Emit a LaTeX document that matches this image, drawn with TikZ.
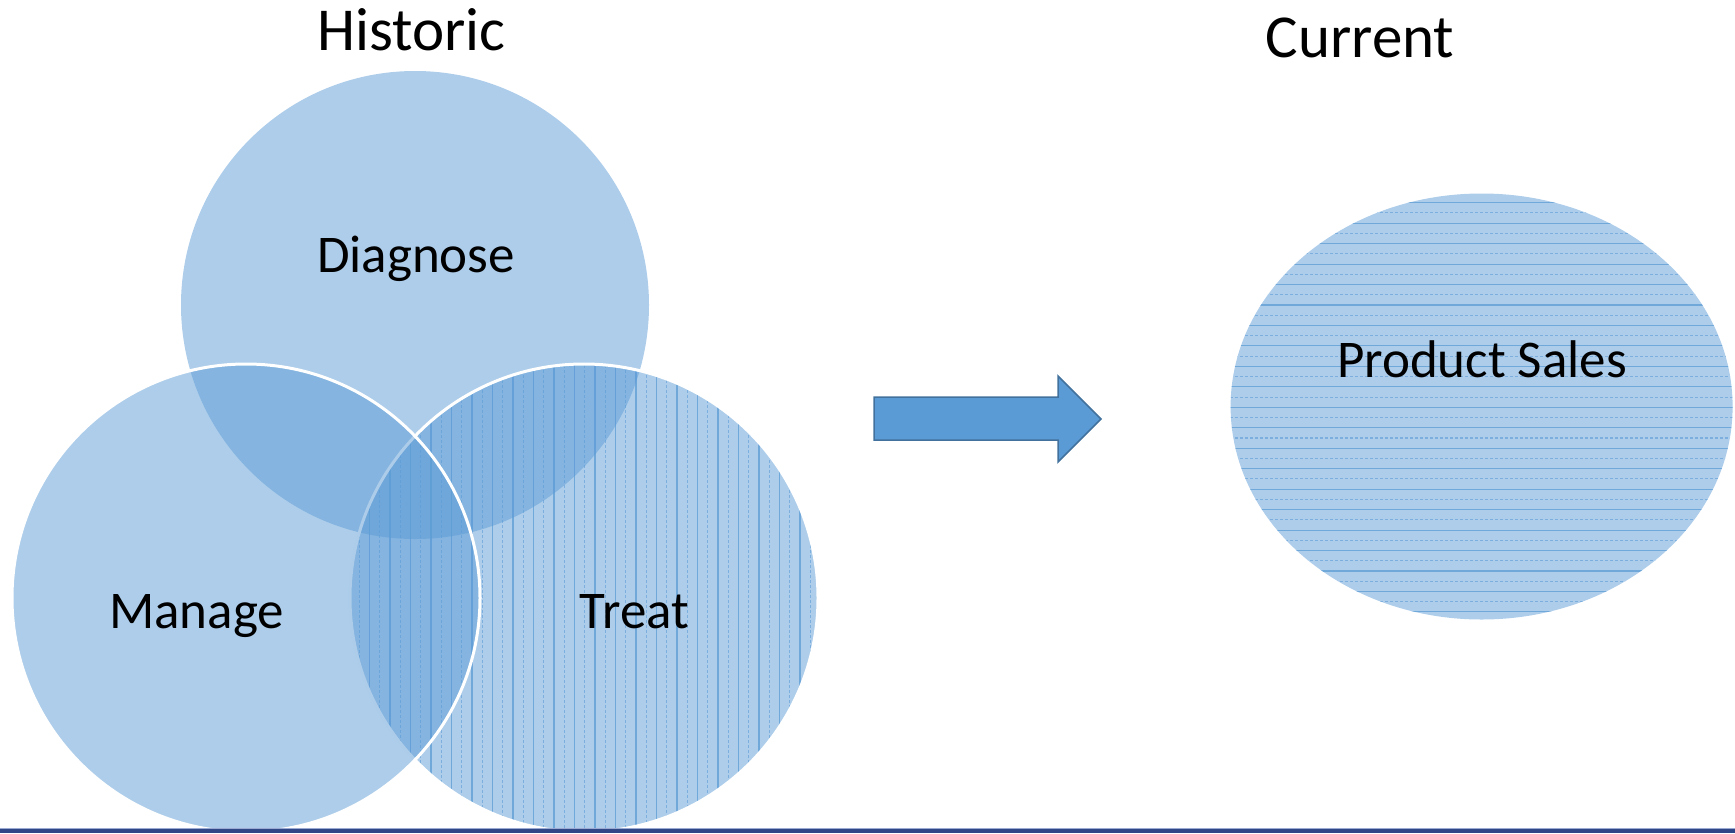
\documentclass[tikz,border=0pt]{standalone}
\usepackage{fontspec}
\setmainfont{Carlito}
\definecolor{vblue}{HTML}{5B9BD5}
\definecolor{arrowline}{HTML}{41719C}
\definecolor{navy}{HTML}{2F4787}
\definecolor{navylight}{HTML}{9AAAD2}
\begin{document}
\begin{tikzpicture}[x=1pt,y=-1pt,
  disc/.style={circle, minimum size=468pt, inner sep=0pt, fill=vblue, fill opacity=0.5},
  rim/.style={draw=white, line width=3pt},
  hatch/.style={draw=vblue, line width=1.1pt, draw opacity=0.75},
  hatchdot/.style={draw=vblue, line width=1.1pt, draw opacity=0.6, dash pattern=on 3pt off 2pt},
  title/.style={font=\fontsize{61}{73}\selectfont, anchor=base, inner sep=0pt},
  lbl/.style={font=\fontsize{53}{64}\selectfont, anchor=base, inner sep=0pt}]
\useasboundingbox (0,0) rectangle (1735,833);

% Diagnose circle
\node[disc] (diag) at (415,305) {};
% Treat circle with vertical lines
\node[disc] (treat) at (584,598) {};
\begin{scope}
  \clip (treat.center) circle[radius=234pt];
  \foreach \i in {0,...,48} {
    \pgfmathtruncatemacro{\odd}{mod(\i,2)}
    \ifnum\odd=0
      \draw[hatch] ({349+10.25*\i},360) -- ({349+10.25*\i},840);
    \else
      \draw[hatchdot] ({349+10.25*\i},360) -- ({349+10.25*\i},840);
    \fi
  }
\end{scope}
\draw[rim] (treat.center) circle[radius=234pt];
% Manage circle
\node[disc] (manage) at (246,598) {};
\draw[rim] (manage.center) circle[radius=234pt];

% Product Sales ellipse
\coordinate (ellc) at (1481.6,406.5);
\fill[vblue, fill opacity=0.5] (ellc) ellipse[x radius=251pt, y radius=213pt];
\begin{scope}
  \clip (ellc) ellipse[x radius=251pt, y radius=213pt];
  \foreach \k in {-1,...,42} {
    \pgfmathtruncatemacro{\odd}{mod(\k+2,2)}
    \ifnum\odd=0
      \draw[hatch] (1225,{202.7+10.23*\k}) -- (1740,{202.7+10.23*\k});
    \else
      \draw[hatchdot] (1225,{202.7+10.23*\k}) -- (1740,{202.7+10.23*\k});
    \fi
  }
\end{scope}

% Arrow
\draw[fill=vblue, draw=arrowline, line width=1.5pt, line join=miter]
  (874,397) -- (1058,397) -- (1058,376) -- (1101,419) -- (1058,462) -- (1058,440) -- (874,440) -- cycle;

% Texts
\node[title] (historic) at (411.5,50) {Historic};
\node[title] (current) at (1360,57) {Current};
\node[lbl] (tdiag) at (416,272) {Diagnose};
\node[lbl] (tmanage) at (196.5,628) {Manage};
\node[lbl] (ttreat) at (634.5,628) {Treat};
\node[lbl] (tsales) at (1482,377) {Product Sales};

% Bottom rule
\fill[navylight] (0,827.5) rectangle (1735,829);
\fill[navy] (0,829) rectangle (1735,833);
\end{tikzpicture}
\end{document}
